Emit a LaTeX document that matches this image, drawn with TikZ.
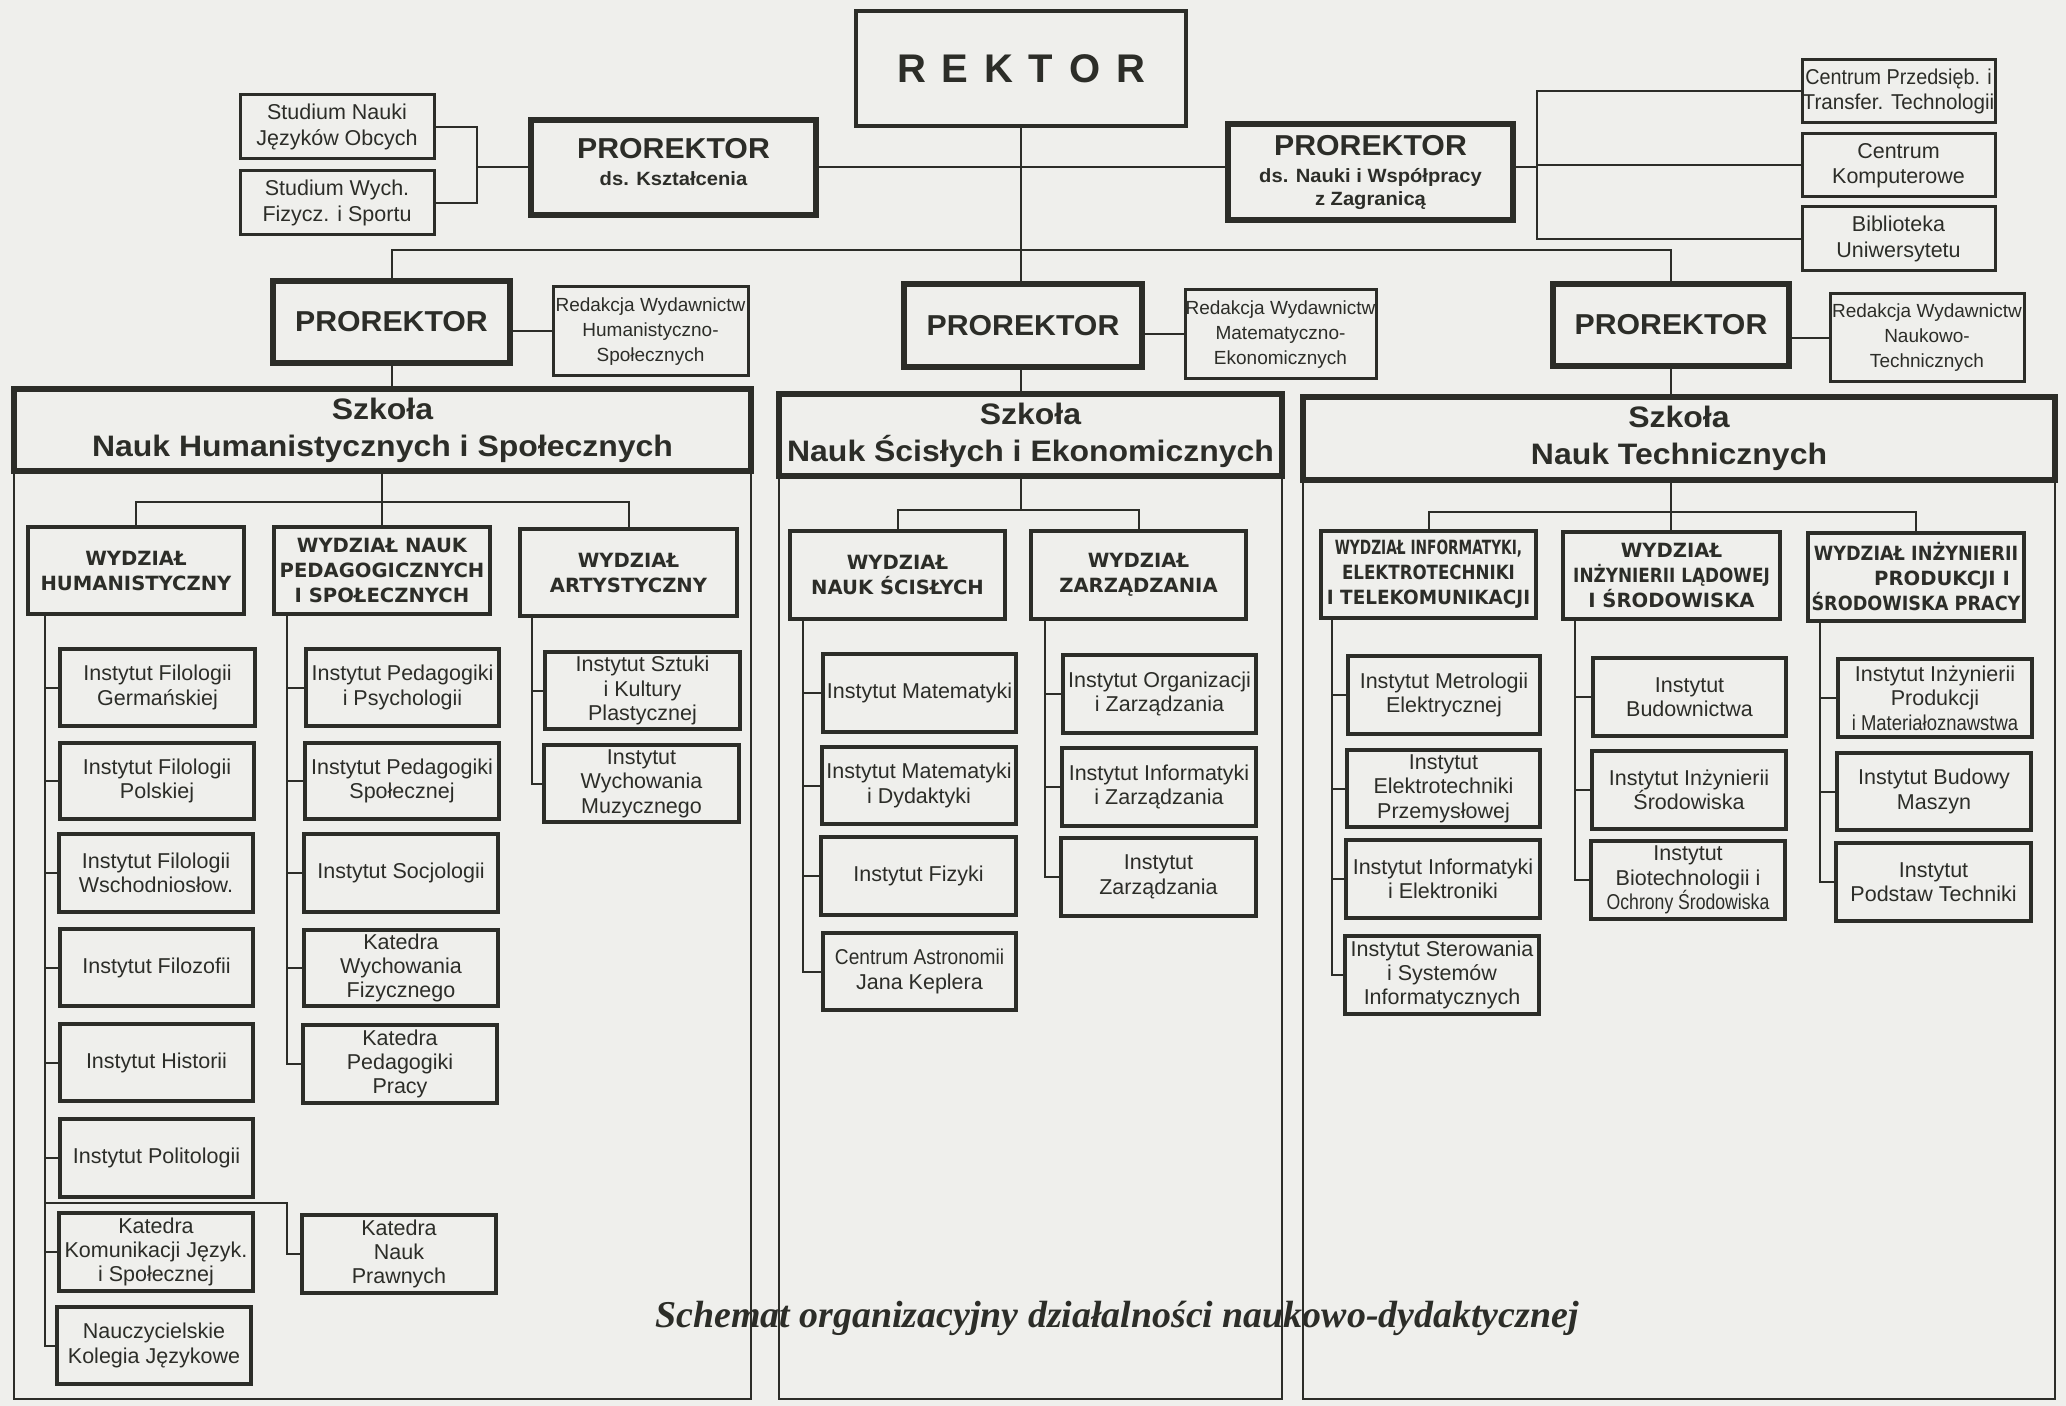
\documentclass[tikz,border=0pt]{standalone}
\usepackage{fontspec}
\usepackage{graphicx}
\setmainfont{Liberation Sans}
\newfontfamily\widesans[FakeStretch=1.05]{Liberation Sans}
\newfontfamily\schoolsans[FakeStretch=1.08]{Liberation Sans}
\newfontfamily\dejavu{DejaVu Sans}
\newfontfamily\serifcap{Liberation Serif}
\definecolor{ink}{RGB}{44,45,40}
\definecolor{paper}{RGB}{239,239,236}
\newcommand\sx[2]{\scalebox{#1}[1]{#2}}
\newcommand\rg{\hspace{7.9pt}}
\begin{document}
\begin{tikzpicture}[x=0.5pt,y=-0.5pt,
  box/.style n args={4}{at={({(#1+#3)/2},{(#2+#4)/2})}, minimum width={(#3-#1)*0.5pt}, minimum height={(#4-#2)*0.5pt}},
  base/.style={draw=ink, text=ink, inner sep=0pt, outer sep=0pt, align=center, rectangle, anchor=center},
  rektorbox/.style={base, line width=2pt, font=\bfseries\fontsize{20}{22}\selectfont},
  prorbox/.style={base, line width=3pt, font=\widesans\bfseries\fontsize{9.6}{11.5}\selectfont},
  szkbox/.style={base, line width=3pt, font=\schoolsans\bfseries\fontsize{14.8}{18.5}\selectfont},
  wydzbox/.style={base, line width=2pt, font=\dejavu\bfseries\fontsize{9.8}{12.5}\selectfont},
  instbox/.style={base, line width=1.7pt, font=\fontsize{10.75}{12.2}\selectfont},
  sidebox/.style={base, line width=1.5pt, font=\fontsize{10.75}{12.7}\selectfont},
  redbox/.style={base, line width=1.5pt, font=\fontsize{9.5}{12.5}\selectfont},
  link/.style={draw=ink, line width=1pt},
  framel/.style={draw=ink, line width=0.8pt},
  prlabel/.style={font=\widesans\bfseries\fontsize{14.4}{16}\selectfont}
]
\fill[paper] (0,0) rectangle (2066,1406);
\useasboundingbox (0,0) rectangle (2066,1406);

% ---------- top level ----------
\node[rektorbox, box={856}{11}{1186}{126}] (rek) {R\rg E\rg K\rg T\rg O\rg R};
\node[sidebox, box={240}{95}{434}{159}] (st1) {Studium Nauki\\Języków Obcych};
\node[sidebox, box={240}{171}{434}{235}] (st2) {Studium Wych.\\Fizycz. i Sportu};
\node[prorbox, box={531}{120}{816}{215}] (prk) {{\widesans\bfseries\fontsize{14.4}{16}\selectfont PROREKTOR}\\[2pt]ds. Kształcenia\\[-6pt]\mbox{}};
\node[prorbox, box={1228}{124}{1513}{220}] (prn) {{\widesans\bfseries\fontsize{14.4}{16}\selectfont PROREKTOR}\\[2pt]ds. Nauki i Współpracy\\z Zagranicą};
\node[sidebox, box={1802}{60}{1995}{123}] (cp) {\sx{0.92}{Centrum Przedsięb. i}\\\sx{0.96}{Transfer. Technologii}};
\node[sidebox, box={1802}{134}{1995}{197}] (ck) {Centrum\\Komputerowe};
\node[sidebox, box={1802}{207}{1995}{271}] (bib) {Biblioteka\\Uniwersytetu};

\node[prorbox, prlabel, box={273}{281}{510}{363}] (prl) {PROREKTOR};
\node[redbox, box={553}{287}{748}{376}] (redl) {Redakcja Wydawnictw\\Humanistyczno-\\Społecznych};
\node[prorbox, prlabel, box={904}{284}{1142}{367}] (prm) {PROREKTOR};
\node[redbox, box={1185}{290}{1376}{379}] (redm) {Redakcja Wydawnictw\\Matematyczno-\\Ekonomicznych};
\node[prorbox, prlabel, box={1553}{284}{1789}{366}] (prr) {PROREKTOR};
\node[redbox, box={1830}{294}{2024}{382}] (redr) {Redakcja Wydawnictw\\Naukowo-\\Technicznych};

\node[szkbox, box={14}{389}{751}{471}] (szh) {Szkoła\\Nauk Humanistycznych i Społecznych};
\node[szkbox, box={779}{394}{1282}{476}] (szs) {Szkoła\\Nauk Ścisłych i Ekonomicznych};
\node[szkbox, box={1303}{397}{2055}{480}] (szt) {Szkoła\\Nauk Technicznych};

% ---------- faculties ----------
\node[wydzbox, box={28}{527}{244}{614}] (wh) {WYDZIAŁ\\HUMANISTYCZNY};
\node[wydzbox, box={274}{527}{490}{614}] (wp) {WYDZIAŁ NAUK\\PEDAGOGICZNYCH\\I SPOŁECZNYCH};
\node[wydzbox, box={520}{529}{737}{616}] (wa) {WYDZIAŁ\\ARTYSTYCZNY};
\node[wydzbox, box={790}{531}{1005}{619}] (ws) {WYDZIAŁ\\NAUK ŚCISŁYCH};
\node[wydzbox, box={1031}{531}{1246}{619}] (wz) {WYDZIAŁ\\ZARZĄDZANIA};
\node[wydzbox, box={1321}{531}{1536}{618}] (wi) {\sx{0.70}{WYDZIAŁ INFORMATYKI,}\\\sx{0.85}{ELEKTROTECHNIKI}\\\sx{0.94}{I TELEKOMUNIKACJI}};
\node[wydzbox, box={1563}{532}{1780}{619}] (wl) {WYDZIAŁ\\\sx{0.86}{INŻYNIERII LĄDOWEJ}\\I ŚRODOWISKA};
\node[wydzbox, box={1808}{533}{2024}{621}] (wpr) {\sx{0.9}{WYDZIAŁ INŻYNIERII}\\\hspace*{26pt}PRODUKCJI I\\\sx{0.9}{ŚRODOWISKA PRACY}};

% ---------- institutes: Humanistyczny ----------
\node[instbox, box={60}{649}{255}{726}] (h1) {Instytut Filologii\\Germańskiej};
\node[instbox, box={60}{743}{254}{819}] (h2) {Instytut Filologii\\Polskiej};
\node[instbox, box={59}{834}{253}{912}] (h3) {Instytut Filologii\\Wschodniosłow.};
\node[instbox, box={60}{929}{253}{1006}] (h4) {Instytut Filozofii};
\node[instbox, box={60}{1024}{253}{1101}] (h5) {Instytut Historii};
\node[instbox, box={60}{1119}{253}{1197}] (h6) {Instytut Politologii};
\node[instbox, box={59}{1213}{253}{1291}] (h7) {Katedra\\Komunikacji Język.\\i Społecznej};
\node[instbox, box={57}{1307}{251}{1384}] (h8) {Nauczycielskie\\Kolegia Językowe};
\node[instbox, box={302}{1215}{496}{1293}] (hk) {Katedra\\Nauk\\Prawnych};

% Pedagogiczny
\node[instbox, box={306}{649}{499}{726}] (p1) {Instytut Pedagogiki\\i Psychologii};
\node[instbox, box={305}{743}{499}{819}] (p2) {Instytut Pedagogiki\\Społecznej};
\node[instbox, box={304}{834}{498}{912}] (p3) {Instytut Socjologii};
\node[instbox, box={304}{930}{498}{1006}] (p4) {Katedra\\Wychowania\\Fizycznego};
\node[instbox, box={303}{1025}{497}{1103}] (p5) {Katedra\\Pedagogiki\\Pracy};

% Artystyczny
\node[instbox, box={545}{652}{740}{729}] (a1) {Instytut Sztuki\\i Kultury\\Plastycznej};
\node[instbox, box={544}{745}{739}{822}] (a2) {Instytut\\Wychowania\\Muzycznego};

% Nauk Scislych
\node[instbox, box={823}{654}{1016}{732}] (s1) {Instytut Matematyki};
\node[instbox, box={822}{747}{1016}{824}] (s2) {Instytut Matematyki\\i Dydaktyki};
\node[instbox, box={821}{837}{1016}{915}] (s3) {Instytut Fizyki};
\node[instbox, box={823}{933}{1016}{1010}] (s4) {\sx{0.89}{Centrum Astronomii}\\Jana Keplera};

% Zarzadzania
\node[instbox, box={1063}{655}{1256}{733}] (z1) {Instytut Organizacji\\i Zarządzania};
\node[instbox, box={1062}{748}{1256}{826}] (z2) {Instytut Informatyki\\i Zarządzania};
\node[instbox, box={1061}{838}{1256}{916}] (z3) {Instytut\\Zarządzania};

% Informatyki
\node[instbox, box={1348}{656}{1540}{734}] (i1) {Instytut Metrologii\\Elektrycznej};
\node[instbox, box={1347}{750}{1540}{827}] (i2) {Instytut\\Elektrotechniki\\Przemysłowej};
\node[instbox, box={1346}{840}{1540}{918}] (i3) {Instytut Informatyki\\i Elektroniki};
\node[instbox, box={1345}{936}{1539}{1014}] (i4) {Instytut Sterowania\\i Systemów\\Informatycznych};

% Ladowej
\node[instbox, box={1593}{658}{1786}{736}] (l1) {Instytut\\Budownictwa};
\node[instbox, box={1592}{751}{1786}{829}] (l2) {Instytut Inżynierii\\Środowiska};
\node[instbox, box={1591}{841}{1785}{919}] (l3) {Instytut\\Biotechnologii i\\\sx{0.82}{Ochrony Środowiska}};

% Produkcji
\node[instbox, box={1838}{659}{2032}{737}] (r1) {Instytut Inżynierii\\Produkcji\\\sx{0.86}{i Materiałoznawstwa}};
\node[instbox, box={1837}{753}{2031}{830}] (r2) {Instytut Budowy\\Maszyn};
\node[instbox, box={1836}{843}{2031}{921}] (r3) {Instytut\\Podstaw Techniki};

% ---------- connectors: top ----------
\coordinate (sj) at (477,167);
\draw[link] (st1.east) -| (sj);
\draw[link] (st2.east) -| (sj);
\draw[link] (sj) -- (sj -| prk.west);
\draw[link] (prk.east) -- (prk.east -| prn.west);
\draw[link] (rek.south) -- (rek.south |- prm.north);
\coordinate (pbar) at (392,250);
\draw[link] (prl.north) -- (prl.north |- pbar) -- (prr.north |- pbar) -- (prr.north);
\coordinate (nj) at (1537,167);
\draw[link] (prn.east |- nj) -- (nj);
\draw[link] (cp.west) -- (cp.west -| nj) -- (bib.west -| nj) -- (bib.west);
\draw[link] (ck.west) -- (ck.west -| nj);
\draw[link] (redl.west) -- (redl.west -| prl.east);
\draw[link] (redm.west) -- (redm.west -| prm.east);
\draw[link] (redr.west) -- (redr.west -| prr.east);
\draw[link] (prl.south) -- (prl.south |- szh.north);
\draw[link] (prm.south -| rek.south) -- (szs.north -| rek.south);
\draw[link] (prr.south) -- (prr.south |- szt.north);

% ---------- school frames ----------
\coordinate (fb) at (0,1399);
\draw[framel] (szh.south west) -- (szh.south west |- fb) -- (szh.south east |- fb) -- (szh.south east);
\draw[framel] (szs.south west) -- (szs.south west |- fb) -- (szs.south east |- fb) -- (szs.south east);
\draw[framel] (szt.south west) -- (szt.south west |- fb) -- (szt.south east |- fb) -- (szt.south east);

% ---------- school -> faculties ----------
\coordinate (hbar) at (382,502);
\draw[link] (szh.south -| hbar) -- (wp.north -| hbar);
\draw[link] (wh.north) -- (wh.north |- hbar) -- (wa.north |- hbar) -- (wa.north);
\coordinate (sbar) at (1021,510);
\draw[link] (szs.south -| sbar) -- (sbar);
\draw[link] (ws.north) -- (ws.north |- sbar) -- (wz.north |- sbar) -- (wz.north);
\coordinate (tbar) at (1671,512);
\draw[link] (szt.south -| tbar) -- (wl.north -| tbar);
\draw[link] (wi.north) -- (wi.north |- tbar) -- (wpr.north |- tbar) -- (wpr.north);

% ---------- spines ----------
\coordinate (hs) at (45,0);
\draw[link] (wh.south -| hs) |- (h8.west);
\foreach \n in {h1,h2,h3,h4,h5,h6,h7} \draw[link] (\n.west) -- (\n.west -| hs);
\coordinate (kpa) at (287,1203);
\draw[link] (kpa -| hs) -- (kpa) |- (hk.west);

\coordinate (ps) at (287,0);
\draw[link] (wp.south -| ps) |- (p5.west);
\foreach \n in {p1,p2,p3,p4} \draw[link] (\n.west) -- (\n.west -| ps);

\coordinate (as) at (532,0);
\draw[link] (wa.south -| as) |- (a2.west);
\draw[link] (a1.west) -- (a1.west -| as);

\coordinate (ss) at (803,0);
\draw[link] (ws.south -| ss) |- (s4.west);
\foreach \n in {s1,s2,s3} \draw[link] (\n.west) -- (\n.west -| ss);

\coordinate (zs) at (1045,0);
\draw[link] (wz.south -| zs) |- (z3.west);
\foreach \n in {z1,z2} \draw[link] (\n.west) -- (\n.west -| zs);

\coordinate (is) at (1332,0);
\draw[link] (wi.south -| is) |- (i4.west);
\foreach \n in {i1,i2,i3} \draw[link] (\n.west) -- (\n.west -| is);

\coordinate (ls) at (1575,0);
\draw[link] (wl.south -| ls) |- (l3.west);
\foreach \n in {l1,l2} \draw[link] (\n.west) -- (\n.west -| ls);

\coordinate (rs) at (1820,0);
\draw[link] (wpr.south -| rs) |- (r3.west);
\foreach \n in {r1,r2} \draw[link] (\n.west) -- (\n.west -| rs);

% ---------- caption ----------
\node[text=ink, inner sep=0pt, anchor=base, font=\serifcap\bfseries\itshape\fontsize{18.95}{21}\selectfont] (cap) at (1117,1327) {Schemat organizacyjny działalności naukowo-dydaktycznej};
\end{tikzpicture}
\end{document}
